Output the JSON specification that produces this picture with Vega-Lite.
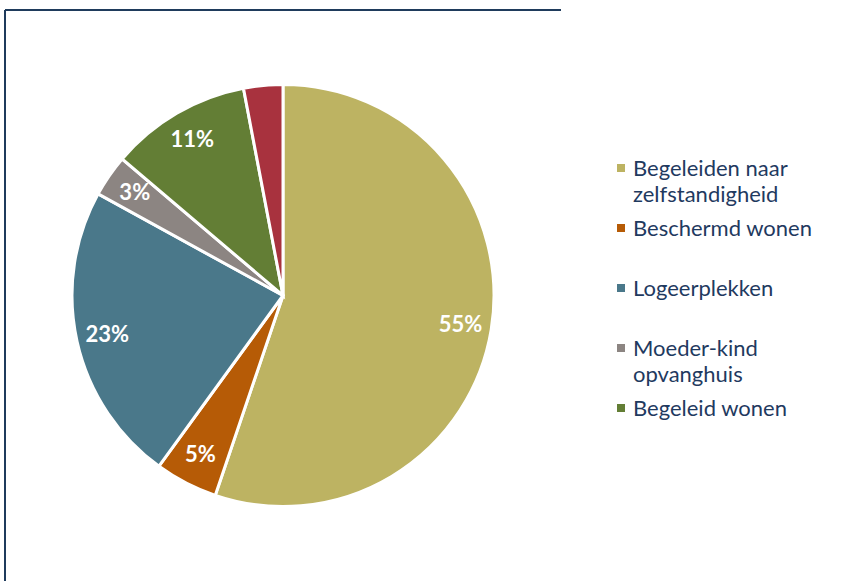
{
  "$schema": "https://vega.github.io/schema/vega-lite/v6.json",
  "autosize": {"type": "none"},
  "width": 556,
  "height": 571,
  "padding": {"left": 5, "top": 10, "right": 286, "bottom": 0},
  "background": "white",
  "view": {"stroke": "#1F3B5C", "strokeWidth": 2, "strokeDash": [556, 1127, 571, 0]},
  "config": {
    "view": {"stroke": "#1F3B5C", "strokeWidth": 2, "strokeDash": [556, 1127, 571, 0]},
    "style": {"guide-label": {"dy": 8, "lineHeight": 26}}
  },
  "data": {
    "values": [
      {"idx": 1, "cat": "Begeleiden naar zelfstandigheid", "value": 55.2, "label": "55%"},
      {"idx": 2, "cat": "Beschermd wonen", "value": 4.8, "label": "5%"},
      {"idx": 3, "cat": "Logeerplekken", "value": 23.0, "label": "23%"},
      {"idx": 4, "cat": "Moeder-kind opvanghuis", "value": 3.2, "label": "3%"},
      {"idx": 5, "cat": "Begeleid wonen", "value": 10.8, "label": "11%"},
      {"idx": 6, "cat": "Overig", "value": 3.0, "label": ""}
    ]
  },
  "encoding": {
    "theta": {"field": "value", "type": "quantitative", "stack": true},
    "order": {"field": "idx", "type": "quantitative"}
  },
  "layer": [
    {
      "mark": {"type": "arc", "outerRadius": 211, "stroke": "white", "strokeWidth": 3},
      "encoding": {
        "color": {
          "field": "cat",
          "type": "nominal",
          "scale": {
            "domain": ["Begeleiden naar zelfstandigheid", "Beschermd wonen", "Logeerplekken", "Moeder-kind opvanghuis", "Begeleid wonen", "Overig"],
            "range": ["#BDB362", "#B65B06", "#4A788A", "#8C8582", "#637E35", "#A8323E"]
          },
          "legend": {
            "title": null,
            "orient": "none",
            "legendX": 605,
            "legendY": 147,
            "padding": 0,
            "values": ["Begeleiden naar zelfstandigheid", "Beschermd wonen", "Logeerplekken", "Moeder-kind opvanghuis", "Begeleid wonen"],
            "symbolType": "square",
            "symbolSize": 64,
            "symbolStrokeWidth": 0,
            "labelFont": "Lato",
            "labelFontSize": 22,
            "labelColor": "#1F3A5F",
            "labelOffset": 1,
            "labelLimit": 300,
            "labelBaseline": "alphabetic",
            "rowPadding": 11,
            "labelExpr": "datum.label == 'Begeleiden naar zelfstandigheid' ? ['Begeleiden naar', 'zelfstandigheid'] : datum.label == 'Moeder-kind opvanghuis' ? ['Moeder-kind', 'opvanghuis'] : [datum.label, '']"
          }
        }
      }
    },
    {
      "mark": {"type": "text", "radius": 180, "font": "Lato", "fontWeight": "bold", "fontSize": 22, "fill": "white"},
      "encoding": {
        "detail": {"field": "cat", "type": "nominal"},
        "text": {"field": "label", "type": "nominal"}
      }
    }
  ]
}
